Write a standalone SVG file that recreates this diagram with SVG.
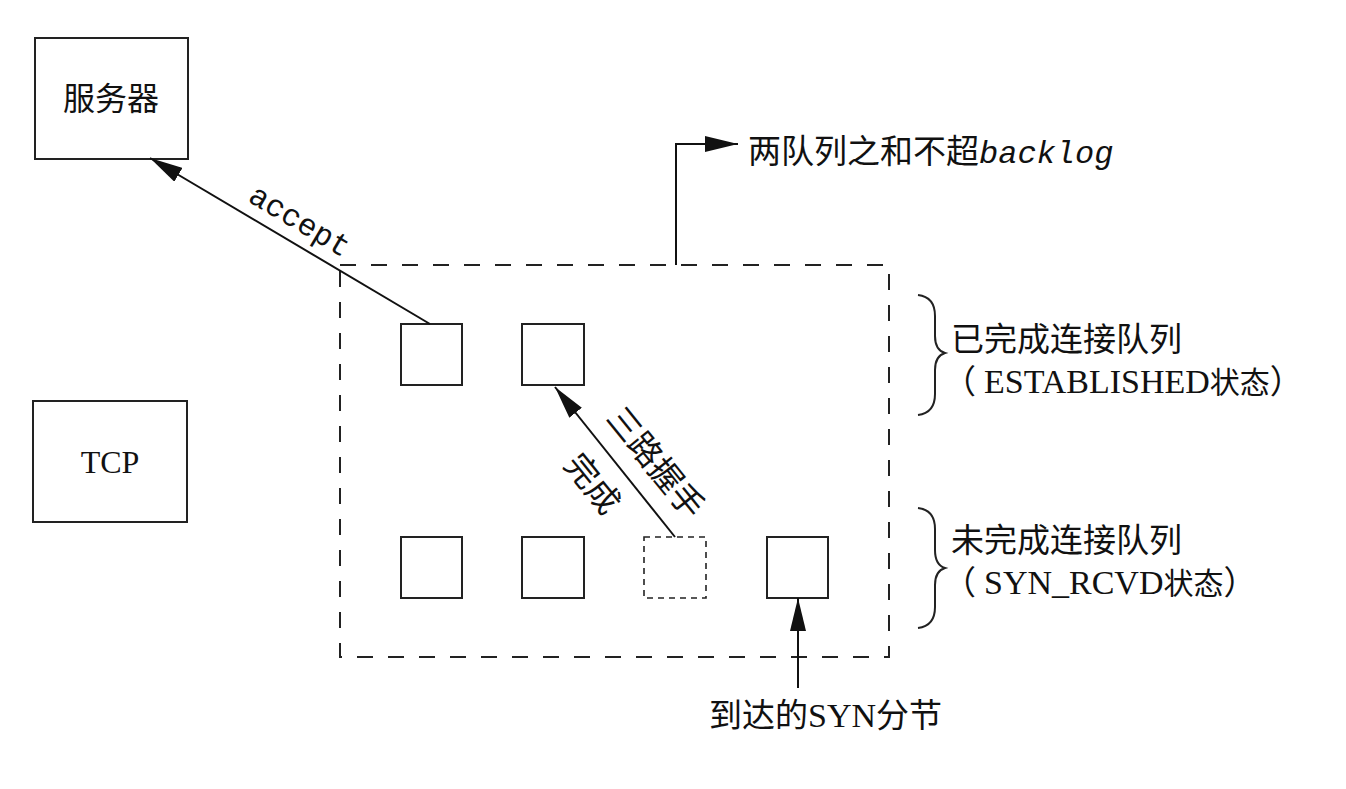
<svg xmlns="http://www.w3.org/2000/svg" width="1346" height="789" viewBox="0 0 1346 789">
<defs>
<style>
.box{fill:#fff;stroke:#222;stroke-width:2}
.q{fill:none;stroke:#222;stroke-width:2}
.qd{fill:none;stroke:#222;stroke-width:1.6;stroke-dasharray:6 5}
.frame{fill:none;stroke:#222;stroke-width:2;stroke-dasharray:16 15}
.ln{fill:none;stroke:#111;stroke-width:2}
.cjk{font-family:"Liberation Serif","Noto Sans CJK SC",serif;font-size:33px;fill:#111}
.lat{font-size:34px}
.st{font-size:30px}
.mono{font-family:"Liberation Mono",monospace;font-size:31px;fill:#111}
.brace{fill:none;stroke:#222;stroke-width:2}
</style>
<marker id="ah" markerUnits="userSpaceOnUse" markerWidth="34" markerHeight="16" refX="33" refY="8" orient="auto">
<path d="M0,0 L33,8 L0,16 Z" fill="#111"/>
</marker>
</defs>
<rect width="1346" height="789" fill="#fff"/>

<g id="server">
<rect class="box" x="35" y="38" width="153" height="121"/>
<text class="cjk" x="111" y="110" text-anchor="middle" style="font-size:32px">服务器</text>
</g>
<g id="tcp">
<rect class="box" x="33" y="401" width="154" height="121"/>
<text class="cjk" x="110" y="473" text-anchor="middle" style="font-size:32px">TCP</text>
</g>

<g id="queues">
<rect class="frame" x="340" y="265" width="549" height="392"/>
</g>
<g id="c1"><rect class="q" x="401" y="324" width="61" height="61"/></g>
<g id="c2"><rect class="q" x="522" y="324" width="62" height="61"/></g>
<g id="i1"><rect class="q" x="401" y="537" width="61" height="61"/></g>
<g id="i2"><rect class="q" x="522" y="537" width="62" height="61"/></g>
<g id="i3"><rect class="qd" x="644" y="537" width="62" height="61"/></g>
<g id="i4"><rect class="q" x="767" y="537" width="61" height="61"/></g>

<g id="connectors">
<line class="ln" x1="430" y1="324" x2="150" y2="158" marker-end="url(#ah)"/>
<line class="ln" x1="675" y1="537" x2="555" y2="387" marker-end="url(#ah)"/>
<line class="ln" x1="798" y1="688" x2="798" y2="598" marker-end="url(#ah)"/>
<polyline class="ln" points="676,265 676,144 738,144" marker-end="url(#ah)"/>
</g>

<g id="labels">
<text class="mono" x="299" y="222" text-anchor="middle" dominant-baseline="central" transform="rotate(30.7 299 222)">accept</text>
<text class="cjk" x="655" y="463" text-anchor="middle" dominant-baseline="central" transform="rotate(51 655 463)">三路握手</text>
<text class="cjk" x="592" y="484" text-anchor="middle" dominant-baseline="central" transform="rotate(51 592 484)">完成</text>
<text class="cjk" x="748" y="163">两队列之和不超<tspan class="mono" style="font-style:italic;font-size:32px">backlog</tspan></text>
<text class="cjk" x="709" y="727">到达的<tspan class="lat">SYN</tspan>分节</text>
</g>

<g id="brace-established">
<path class="brace" d="M918,295 Q935,297 935,316 L935,336 Q935,350 945,353 Q935,356 935,370 L935,394 Q935,413 918,415"/>
<text class="cjk" x="951" y="351">已完成连接队列</text>
<text class="cjk" x="943" y="393">（<tspan class="lat" dx="8">ESTABLISHED</tspan><tspan class="st">状态</tspan>）</text>
</g>
<g id="brace-syn">
<path class="brace" d="M918,508 Q935,510 935,529 L935,550 Q935,565 945,568 Q935,571 935,585 L935,607 Q935,626 918,628"/>
<text class="cjk" x="951" y="552">未完成连接队列</text>
<text class="cjk" x="943" y="594">（<tspan class="lat" dx="8">SYN_RCVD</tspan><tspan class="st">状态</tspan>）</text>
</g>
</svg>
